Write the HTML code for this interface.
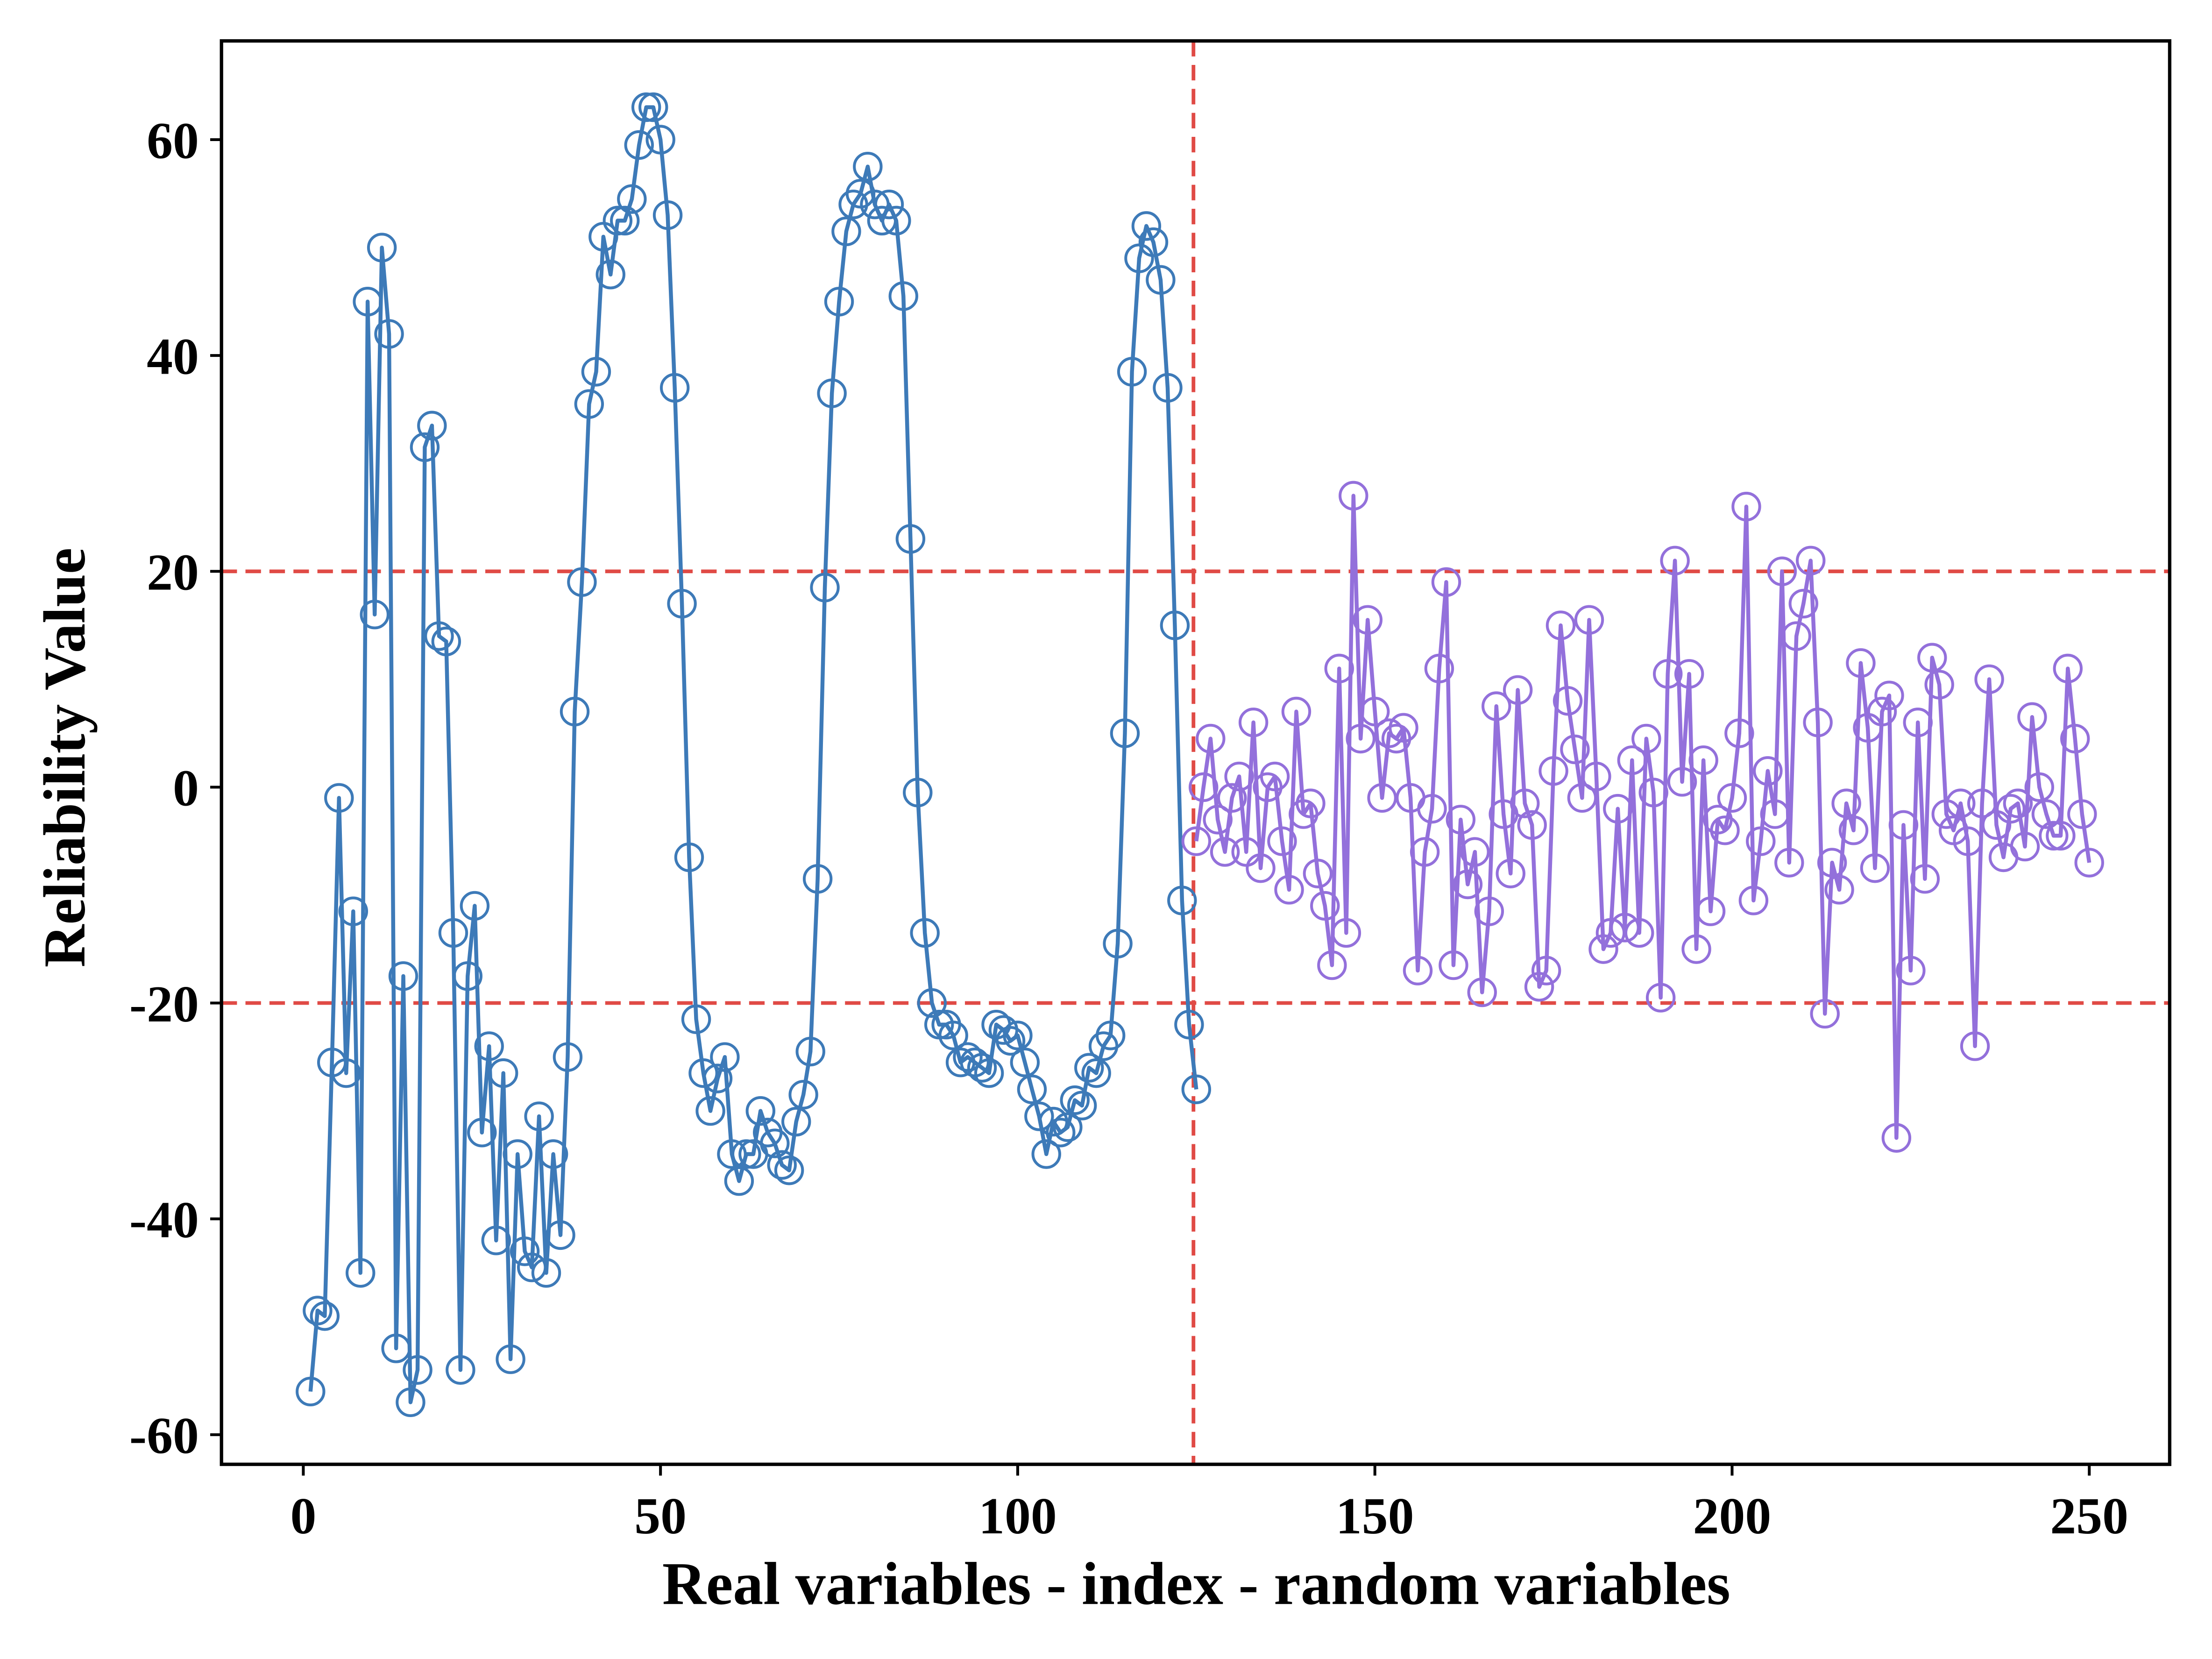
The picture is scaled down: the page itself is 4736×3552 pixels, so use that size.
<!DOCTYPE html>
<html><head><meta charset="utf-8">
<style>
html,body{margin:0;padding:0;background:#fff;}
svg{display:block;}
text{font-family:"Liberation Serif",serif;font-weight:bold;fill:#000;}
</style></head>
<body>
<svg id="c" width="4736" height="3552" viewBox="0 0 1568 1176" xmlns="http://www.w3.org/2000/svg">
<rect x="0" y="0" width="1568" height="1176" fill="#fff"/>
<g id="plot"></g>
<rect x="157" y="29" width="1381" height="1009" fill="none" stroke="#000" stroke-width="2.4"/>
<g id="ticks"></g>
<text x="848" y="1137" font-size="43" text-anchor="middle">Real variables - index - random variables</text>
<text transform="translate(60,537) rotate(-90)" font-size="42" text-anchor="middle">Reliability Value</text>
</svg>
<script>
var X=function(i){return 215+i*5.064;};
var Y=function(v){return 558-v*7.65;};
var blue=[-56,-48.5,-49,-25.5,-1,-26.5,-11.5,-45,45,16,50,42,-52,-17.5,-57,-54,31.5,33.5,14,13.5,-13.5,-54,-17.5,-11,-32,-24,-42,-26.5,-53,-34,-43,-44.5,-30.5,-45,-34,-41.5,-25,7,19,35.5,38.5,51,47.5,52.5,52.5,54.5,59.5,63,63,60,53,37,17,-6.5,-21.5,-26.5,-30,-27,-25,-34,-36.5,-34,-34,-30,-32,-33,-35,-35.5,-31,-28.5,-24.5,-8.5,18.5,36.5,45,51.5,54,55,57.5,54,52.5,54,52.5,45.5,23,-0.5,-13.5,-20,-22,-22,-23,-25.5,-25,-25.5,-26,-26.5,-22,-22.5,-23.5,-23,-25.5,-28,-30.5,-34,-31,-32,-31.5,-29,-29.5,-26,-26.5,-24,-23,-14.5,5,38.5,49,52,50.5,47,37,15,-10.5,-22,-28];
var purple=[-5,0,4.5,-3,-6,-1,1,-6,6,-7.5,0,1,-5,-9.5,7,-2.5,-1.5,-8,-11,-16.5,11,-13.5,27,4.5,15.5,7,-1,5,4.5,5.5,-1,-17,-6,-2,11,19,-16.5,-3,-9,-6,-19,-11.5,7.5,-2.5,-8,9,-1.5,-3.5,-18.5,-17,1.5,15,8,3.5,-1,15.5,1,-15,-13.5,-2,-13,2.5,-13.5,4.5,-0.5,-19.5,10.5,21,0.5,10.5,-15,2.5,-11.5,-3,-4,-1,5,26,-10.5,-5,1.5,-2.5,20,-7,14,17,21,6,-21,-7,-9.5,-1.5,-4,11.5,5.5,-7.5,7,8.5,-32.5,-3.5,-17,6,-8.5,12,9.5,-2.5,-4,-1.5,-5,-24,-1.5,10,-3.5,-6.5,-2,-1.5,-5.5,6.5,0,-2.5,-4.5,-4.5,11,4.5,-2.5,-7];
var h="";
h+='<line x1="157" y1="405" x2="1538" y2="405" stroke="#e04a45" stroke-width="2.6" stroke-dasharray="11,6"/>';
h+='<line x1="157" y1="711" x2="1538" y2="711" stroke="#e04a45" stroke-width="2.6" stroke-dasharray="11,6"/>';
h+='<line x1="846" y1="29" x2="846" y2="1038" stroke="#e04a45" stroke-width="2.6" stroke-dasharray="11,6"/>';
function series(arr,start,col){
  var p="";for(var i=0;i<arr.length;i++){p+=(i?"L":"M")+X(start+i).toFixed(1)+","+Y(arr[i]).toFixed(1);}
  var s='<path d="'+p+'" fill="none" stroke="'+col+'" stroke-width="2.8" stroke-linejoin="round"/>';
  for(var i=0;i<arr.length;i++){s+='<circle cx="'+X(start+i).toFixed(1)+'" cy="'+Y(arr[i]).toFixed(1)+'" r="9.5" fill="none" stroke="'+col+'" stroke-width="2"/>';}
  return s;
}
h+=series(blue,1,"#3d7ab8");
h+=series(purple,125,"#9370db");
document.getElementById("plot").innerHTML=h;
var t="";
[0,50,100,150,200,250].forEach(function(v){var x=X(v);
 t+='<line x1="'+x+'" y1="1038" x2="'+x+'" y2="1046" stroke="#000" stroke-width="2"/>';
 t+='<text x="'+x+'" y="1087" font-size="37" text-anchor="middle">'+v+'</text>';});
[60,40,20,0,-20,-40,-60].forEach(function(v){var y=Y(v);
 t+='<line x1="149" y1="'+y+'" x2="157" y2="'+y+'" stroke="#000" stroke-width="2"/>';
 t+='<text x="141" y="'+(y+13)+'" font-size="37" text-anchor="end">'+v+'</text>';});
document.getElementById("ticks").innerHTML=t;
</script>
</body></html>
